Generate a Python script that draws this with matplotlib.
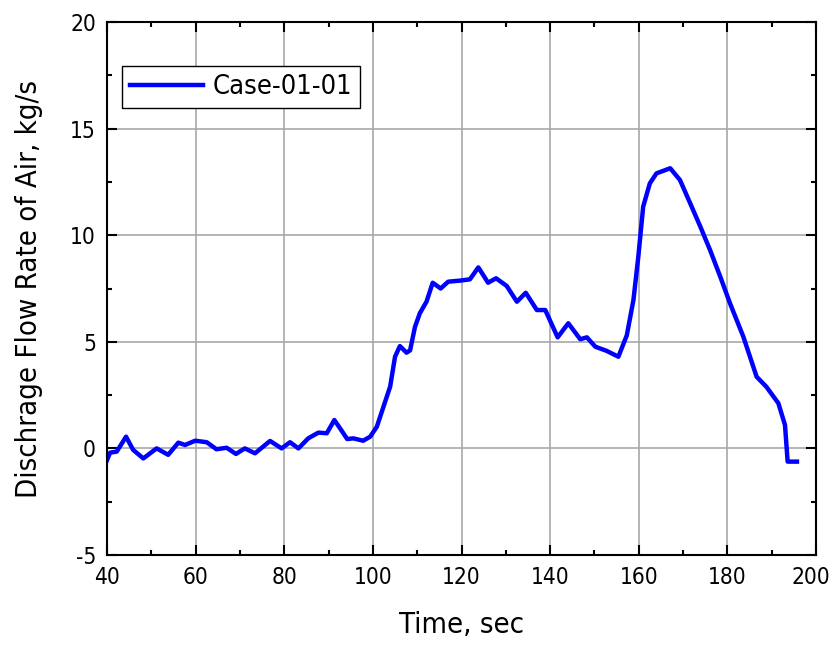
import matplotlib
matplotlib.use("Agg")
import matplotlib.pyplot as plt
import matplotlib.transforms as mtransforms
from matplotlib.ticker import MultipleLocator

plt.rcParams['font.family'] = ['DejaVu Sans']
plt.rcParams['font.stretch'] = 'condensed'
plt.rcParams['axes.unicode_minus'] = False

time_s = [40.0, 40.7, 42.2, 44.3, 45.9, 48.2, 51.2, 53.8, 56.1, 57.6, 59.9, 62.5,
          64.7, 67.0, 69.1, 71.1, 73.4, 76.8, 79.4, 81.3, 83.2, 85.4, 87.7, 89.6,
          91.3, 92.6, 94.2, 95.6, 97.8, 99.4, 100.9, 102.4, 103.9, 105.0, 106.1,
          107.6, 108.4, 109.5, 110.6, 112.1, 113.5, 115.3, 117.0, 119.7, 121.9,
          123.8, 126.0, 127.8, 130.2, 132.5, 134.5, 137.0, 138.9, 141.7, 144.1,
          146.8, 148.3, 150.2, 152.8, 155.4, 157.3, 158.8, 159.9, 161.0, 162.5,
          164.0, 167.1, 169.3, 171.6, 173.9, 176.1, 178.4, 180.6, 183.6, 186.6,
          188.8, 191.5, 193.0, 193.6, 195.7]
flow_kgs = [-0.55, -0.2, -0.15, 0.55, -0.07, -0.47, 0.0, -0.3, 0.27, 0.16, 0.36, 0.29,
            -0.04, 0.03, -0.26, 0.0, -0.23, 0.35, 0.0, 0.29, 0.0, 0.47, 0.74, 0.71,
            1.33, 0.94, 0.44, 0.47, 0.36, 0.55, 1.02, 1.96, 2.9, 4.3, 4.8,
            4.49, 4.6, 5.7, 6.34, 6.88, 7.77, 7.5, 7.82, 7.87, 7.93,
            8.49, 7.77, 7.98, 7.62, 6.88, 7.3, 6.49, 6.49, 5.21, 5.87,
            5.12, 5.21, 4.77, 4.57, 4.3, 5.3, 6.96, 8.99, 11.34, 12.43,
            12.9, 13.14, 12.59, 11.5, 10.4, 9.3, 8.05, 6.8, 5.24, 3.36,
            2.89, 2.12, 1.1, -0.62, -0.62]
series_label = "Case-01-01"

fig = plt.figure(figsize=(8.33, 6.45), dpi=100)
ax = fig.add_axes([107/833, 1-555/645, (816-107)/833, (555-22)/645])

ax.plot(time_s, flow_kgs, color='#0000ff', lw=3.2, label=series_label)

ax.set_xlim(40, 200)
ax.set_ylim(-5, 20)
ax.xaxis.set_major_locator(MultipleLocator(20))
ax.xaxis.set_minor_locator(MultipleLocator(10))
ax.yaxis.set_major_locator(MultipleLocator(5))
ax.yaxis.set_minor_locator(MultipleLocator(2.5))
ax.grid(True, which='major', color='#a8a8a8', lw=1.2)
ax.set_axisbelow(True)
ax.tick_params(which='both', direction='in', top=True, right=True, labelsize=16.3, width=1.5)
ax.tick_params(which='major', length=7, pad=8)
ax.tick_params(which='minor', length=3.5)
for s in ax.spines.values():
    s.set_linewidth(1.5)

ax.set_xlabel("Time, sec", fontsize=21)
ax.set_ylabel("Dischrage Flow Rate of Air, kg/s", fontsize=21)
ax.xaxis.set_label_coords(0.5, -0.105)
ax.yaxis.set_label_coords(-0.09, 0.5)

leg = ax.legend(loc='upper left', bbox_to_anchor=(0.021, 0.917), borderaxespad=0,
                fontsize=19.5, frameon=True, fancybox=False, edgecolor='black',
                handlelength=2.7, handletextpad=0.35, borderpad=0.3, framealpha=1)
leg.get_frame().set_linewidth(1.0)

# nudge the last x tick label so it stays inside the figure
fig.canvas.draw()
last = ax.xaxis.get_majorticklabels()[-1]
offset = mtransforms.ScaledTranslation(-4/72, 0, fig.dpi_scale_trans)
for t in ax.xaxis.get_major_ticks():
    if abs(t.get_loc() - 200) < 1e-6:
        t.label1.set_transform(t.label1.get_transform() + offset)

fig.savefig("out.png", dpi=100)
